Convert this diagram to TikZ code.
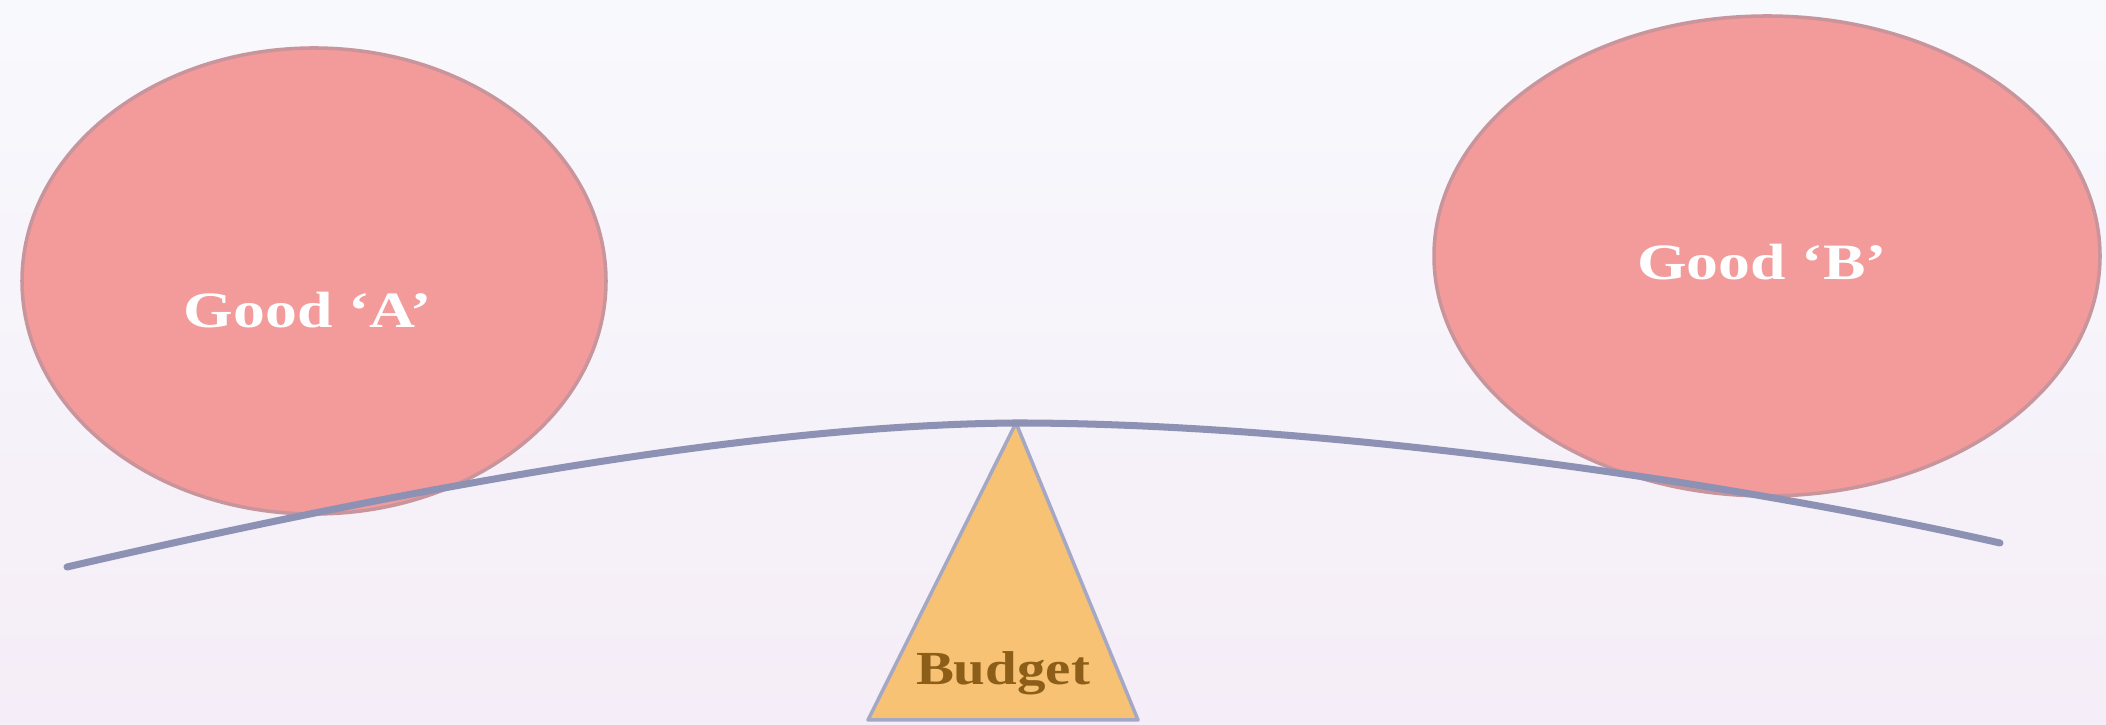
\documentclass[tikz,border=0pt]{standalone}
\usepackage{fontspec}
\setmainfont{Liberation Serif}
\usetikzlibrary{shapes.geometric}

\definecolor{bgtop}{HTML}{F8F9FD}
\definecolor{bgbot}{HTML}{F5EDF7}
\definecolor{goodfill}{HTML}{F39A9A}
\definecolor{goodrim}{HTML}{C9959C}
\definecolor{beamgray}{HTML}{8D92B5}
\definecolor{budgetfill}{HTML}{F8C274}
\definecolor{budgettext}{HTML}{8C5E18}

\begin{document}
\begin{tikzpicture}[scale=1]
  \fill[top color=bgtop, bottom color=bgbot] (0,0) rectangle (21.06,7.25);
  \useasboundingbox (0,0) rectangle (21.06,7.25);
  % the two goods
  \foreach \n/\x/\y/\w/\h/\tx/\ty/\g in
  {
    ga/3.14/4.44/5.84/4.66/3.08/4.15/A,
    gb/17.67/4.69/6.66/4.80/17.62/4.63/B%
  }
  {
    \node[ellipse, draw=goodrim, fill=goodfill, line width=1pt,
          minimum width=\w cm, minimum height=\h cm, inner sep=0pt] (\n) at (\x,\y) {};
    \node[text=white, font=\bfseries\fontsize{14.5}{16}\selectfont]
          (\n label) at (\tx,\ty) {\scalebox{1.25}[1]{Good `\g'}};
  }
  % fulcrum
  \coordinate (top) at (10.16,3.02);
  \coordinate (bl) at (8.68,0.05);
  \coordinate (br) at (11.38,0.05);
  \draw[fill=budgetfill, draw=beamgray!80, line width=1pt, line join=round] (top) -- (bl) -- (br) -- cycle;
  \node[text=budgettext, font=\bfseries\fontsize{13.5}{15}\selectfont] (budget) at (10.03,0.52) {\scalebox{1.2}[1]{Budget}};
  % beam
  \coordinate (bend1) at (0.67,1.58);
  \coordinate (bend2) at (20.0,1.82);
  \draw[beamgray, line width=2pt, line cap=round]
    (bend1) .. controls (4,2.35) and (7.5,3.0) .. (top)
            .. controls (13,3.02) and (17,2.5) .. (bend2);
\end{tikzpicture}
\end{document}
